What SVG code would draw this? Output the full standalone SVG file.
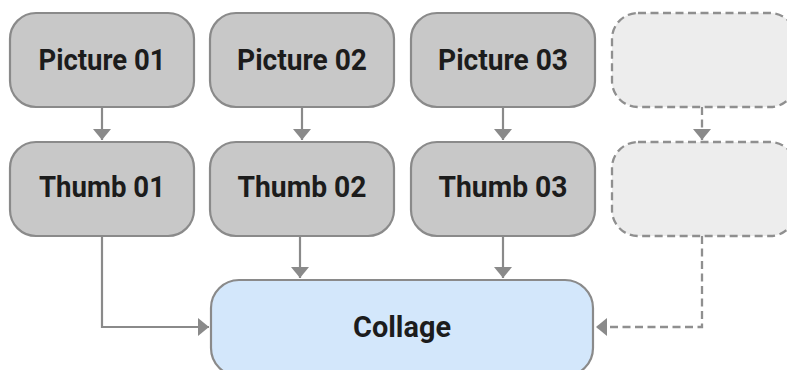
<svg xmlns="http://www.w3.org/2000/svg" width="787" height="370" viewBox="0 0 787 370">
<style>
.box{fill:#c8c8c8;stroke:#8a8a8a;stroke-width:2.2}
.ghost{fill:#ededed;stroke:#8f8f8f;stroke-width:2.3;stroke-dasharray:8 4.5}
.col{fill:#d3e7fb;stroke:#8a8a8a;stroke-width:2.2}
.lbl{font-family:"Roboto","Liberation Sans",sans-serif;font-weight:bold;font-size:30px;fill:#1c1c1c;text-anchor:middle}
.ln{fill:none;stroke:#8a8a8a;stroke-width:2.2}
.dl{fill:none;stroke:#8f8f8f;stroke-width:2.3;stroke-dasharray:8 4.5}
</style>
<defs>
<marker id="ah" markerUnits="userSpaceOnUse" markerWidth="20" markerHeight="20" viewBox="0 0 20 20" refX="11" refY="10" orient="auto">
<path d="M0,1 L11,10 L0,19 Z" fill="#8a8a8a"/>
</marker>
</defs>
<g id="connectors">
<path class="ln" d="M102,107 V140" marker-end="url(#ah)"/>
<path class="ln" d="M302,107 V140" marker-end="url(#ah)"/>
<path class="ln" d="M503,107 V140" marker-end="url(#ah)"/>
<path class="dl" d="M702,107 V140" marker-end="url(#ah)"/>
<path class="ln" d="M102,236 V327 H209" marker-end="url(#ah)"/>
<path class="ln" d="M300,236 V278" marker-end="url(#ah)"/>
<path class="ln" d="M503,236 V278" marker-end="url(#ah)"/>
<path class="dl" d="M702,236 V327 H596" marker-end="url(#ah)"/>
</g>
<g id="picture01"><rect class="box" x="10" y="13" width="184" height="94" rx="26"/><text class="lbl" x="102" y="70" textLength="127" lengthAdjust="spacingAndGlyphs">Picture 01</text></g>
<g id="picture02"><rect class="box" x="210" y="13" width="184" height="94" rx="26"/><text class="lbl" x="302" y="70" textLength="130" lengthAdjust="spacingAndGlyphs">Picture 02</text></g>
<g id="picture03"><rect class="box" x="411" y="13" width="184" height="94" rx="26"/><text class="lbl" x="503" y="70" textLength="130" lengthAdjust="spacingAndGlyphs">Picture 03</text></g>
<g id="placeholder1"><rect class="ghost" x="612" y="13" width="184" height="94" rx="26"/></g>
<g id="thumb01"><rect class="box" x="10" y="142" width="184" height="94" rx="26"/><text class="lbl" x="102" y="197" textLength="126" lengthAdjust="spacingAndGlyphs">Thumb 01</text></g>
<g id="thumb02"><rect class="box" x="210" y="142" width="184" height="94" rx="26"/><text class="lbl" x="302" y="197" textLength="129" lengthAdjust="spacingAndGlyphs">Thumb 02</text></g>
<g id="thumb03"><rect class="box" x="411" y="142" width="184" height="94" rx="26"/><text class="lbl" x="503" y="197" textLength="129" lengthAdjust="spacingAndGlyphs">Thumb 03</text></g>
<g id="placeholder2"><rect class="ghost" x="612" y="142" width="184" height="94" rx="26"/></g>
<g id="collage"><rect class="col" x="211" y="280" width="382" height="96" rx="28"/><text class="lbl" x="402" y="337" textLength="98" lengthAdjust="spacingAndGlyphs">Collage</text></g>
</svg>
